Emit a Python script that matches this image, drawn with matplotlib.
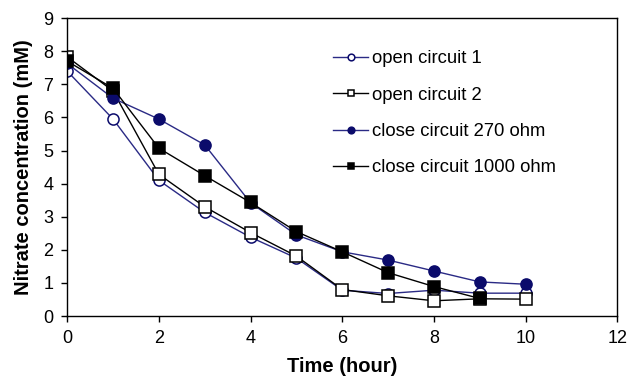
import matplotlib
matplotlib.use("Agg")
import matplotlib.pyplot as plt

plt.rcParams['font.family'] = ['Liberation Sans', 'DejaVu Sans']

time_h = [0, 1, 2, 3, 4, 5, 6, 7, 8, 9, 10]
open1 = [7.40, 5.95, 4.10, 3.13, 2.38, 1.75, 0.78, 0.68, 0.78, 0.69, 0.69]
open2 = [7.83, 6.80, 4.28, 3.30, 2.52, 1.81, 0.80, 0.61, 0.46, 0.52, 0.51]
close270 = [7.63, 6.58, 5.95, 5.17, 3.42, 2.45, 1.94, 1.69, 1.36, 1.03, 0.96]
time_1000 = [0, 1, 2, 3, 4, 5, 6, 7, 8, 9]
close1000 = [7.70, 6.88, 5.07, 4.24, 3.43, 2.55, 1.94, 1.31, 0.89, 0.53]

navy = '#0b0b6b'
lnavy = '#2a2a85'

fig = plt.figure(figsize=(6.28, 3.78), dpi=100)
ax = fig.add_axes([0.107, 0.164, 0.876, 0.788])

ax.plot(time_h, open1, color=lnavy, lw=1, marker='o', ms=8, mfc='white', mec=navy, mew=1.1,
        label='open circuit 1')
ax.plot(time_h, open2, color='black', lw=1, marker='s', ms=8, mfc='white', mec='black', mew=1.1,
        label='open circuit 2')
ax.plot(time_h, close270, color=lnavy, lw=1, marker='o', ms=8, mfc=navy, mec=navy, mew=1.1,
        label='close circuit 270 ohm')
ax.plot(time_1000, close1000, color='black', lw=1, marker='s', ms=8, mfc='black', mec='black', mew=1.1,
        label='close circuit 1000 ohm')

ax.set_xlim(0, 12)
ax.set_ylim(0, 9)
ax.set_xticks(range(0, 13, 2))
ax.set_yticks(range(0, 10))
ax.tick_params(labelsize=13, direction='out', length=4, width=1, pad=6)
for s in ax.spines.values():
    s.set_linewidth(1)
ax.set_xlabel('Time (hour)', fontsize=14.5, fontweight='bold', labelpad=7)
ax.set_ylabel('Nitrate concentration (mM)', fontsize=14.5, fontweight='bold', labelpad=7)

leg = ax.legend(loc='upper left', bbox_to_anchor=(0.453, 0.948), frameon=False, fontsize=13.3,
                handlelength=1.9, handletextpad=0.22, labelspacing=1.05, markerscale=0.6)

fig.savefig('out.png', dpi=100)
